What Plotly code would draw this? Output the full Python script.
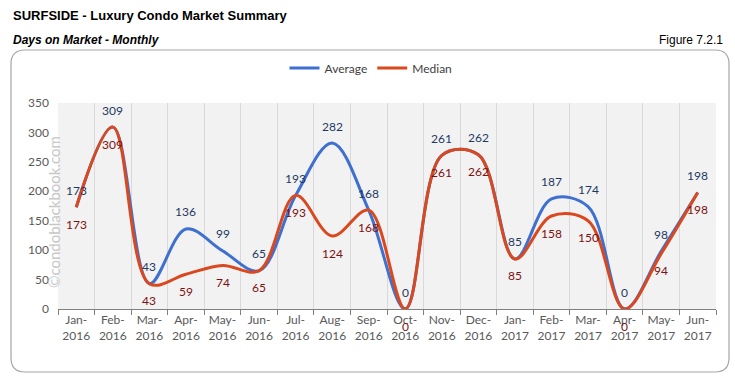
import plotly.graph_objects as go

months = ["Jan-<br>2016", "Feb-<br>2016", "Mar-<br>2016", "Apr-<br>2016", "May-<br>2016", "Jun-<br>2016",
          "Jul-<br>2016", "Aug-<br>2016", "Sep-<br>2016", "Oct-<br>2016", "Nov-<br>2016", "Dec-<br>2016",
          "Jan-<br>2017", "Feb-<br>2017", "Mar-<br>2017", "Apr-<br>2017", "May-<br>2017", "Jun-<br>2017"]
average = [173, 309, 43, 136, 99, 65, 193, 282, 168, 0, 261, 262, 85, 187, 174, 0, 98, 198]
median = [173, 309, 43, 59, 74, 65, 193, 124, 168, 0, 261, 262, 85, 158, 150, 0, 94, 198]
y_ticks = [0, 50, 100, 150, 200, 250, 300, 350]

BLUE = "#3F6FCF"
RED = "#D9481E"
FONT = "Lato"

W, H = 735, 379
L, R, T, B = 58, 19, 103, 70
pw, ph = W - L - R, H - T - B


def px(x):
    return (x - L) / pw


def py(y):
    return (H - B - y) / ph


fig = go.Figure()
fig.add_trace(go.Scatter(x=months, y=average, name="Average", mode="lines",
                         line=dict(color=BLUE, width=3, shape="spline", smoothing=1.0)))
fig.add_trace(go.Scatter(x=months, y=median, name="Median", mode="lines",
                         line=dict(color=RED, width=3, shape="spline", smoothing=1.0)))

for m, v in zip(months, average):
    fig.add_annotation(x=m, y=v, xref="x", yref="y", text=str(v), showarrow=False,
                       yshift=17, font=dict(family=FONT, size=12, color="#1F3864"))
for m, v in zip(months, median):
    fig.add_annotation(x=m, y=v, xref="x", yref="y", text=str(v), showarrow=False,
                       yshift=-17, font=dict(family=FONT, size=12, color="#7F1010"))

# watermark
fig.add_annotation(x=px(54), y=py(212), xref="paper", yref="paper", text="©condoblackbook.com",
                   xanchor="center", yanchor="middle",
                   showarrow=False, textangle=-90, font=dict(family=FONT, size=15, color="#C8C8C8"))

# rounded border
x0, x1, y0, y1, r = 11, 729, 50, 372, 14
path = (f"M {px(x0 + r)},{py(y0)} L {px(x1 - r)},{py(y0)} Q {px(x1)},{py(y0)} {px(x1)},{py(y0 + r)} "
        f"L {px(x1)},{py(y1 - r)} Q {px(x1)},{py(y1)} {px(x1 - r)},{py(y1)} "
        f"L {px(x0 + r)},{py(y1)} Q {px(x0)},{py(y1)} {px(x0)},{py(y1 - r)} "
        f"L {px(x0)},{py(y0 + r)} Q {px(x0)},{py(y0)} {px(x0 + r)},{py(y0)} Z")
fig.add_shape(type="path", path=path, xref="paper", yref="paper",
              line=dict(color="#A6A6A6", width=1.2), layer="below")

# titles
fig.add_annotation(x=px(11), y=py(15), xref="paper", yref="paper", xanchor="left", yanchor="middle",
                   text="<b>SURFSIDE - Luxury Condo Market Summary</b>", showarrow=False,
                   font=dict(family="Liberation Sans", size=13, color="#000000"))
fig.add_annotation(x=px(11), y=py(40), xref="paper", yref="paper", xanchor="left", yanchor="middle",
                   text="<b><i>Days on Market - Monthly</i></b>", showarrow=False,
                   font=dict(family="Liberation Sans", size=12, color="#000000"))
fig.add_annotation(x=px(725), y=py(40), xref="paper", yref="paper", xanchor="right", yanchor="middle",
                   text="Figure 7.2.1", showarrow=False,
                   font=dict(family="Liberation Sans", size=12, color="#000000"))

fig.update_layout(
    width=W, height=H,
    margin=dict(l=L, r=R, t=T, b=B, autoexpand=False),
    paper_bgcolor="#FFFFFF",
    plot_bgcolor="#F2F2F2",
    showlegend=True,
    legend=dict(orientation="h", x=px(371), xanchor="center", y=py(68), yanchor="middle",
                itemwidth=30, font=dict(family=FONT, size=12, color="#404040"),
                bgcolor="rgba(0,0,0,0)"),
    xaxis=dict(type="category", tickson="boundaries", ticks="outside", ticklen=5, tickcolor="#808080",
               showline=True, linecolor="#808080", linewidth=1, tickangle=0, automargin=False,
               showgrid=True, gridcolor="#D9D9D9", gridwidth=1,
               tickfont=dict(family=FONT, size=12, color="#595959"), range=[-0.5, 17.5]),
    yaxis=dict(range=[0, 350], tickvals=y_ticks, showgrid=False, zeroline=False, showline=False,
               ticks="", automargin=False, tickfont=dict(family=FONT, size=12, color="#595959"),
               ticklabelstandoff=8),
)

fig.write_html("out.html", config={"displayModeBar": False},
               post_script="document.body.style.margin='0';")
